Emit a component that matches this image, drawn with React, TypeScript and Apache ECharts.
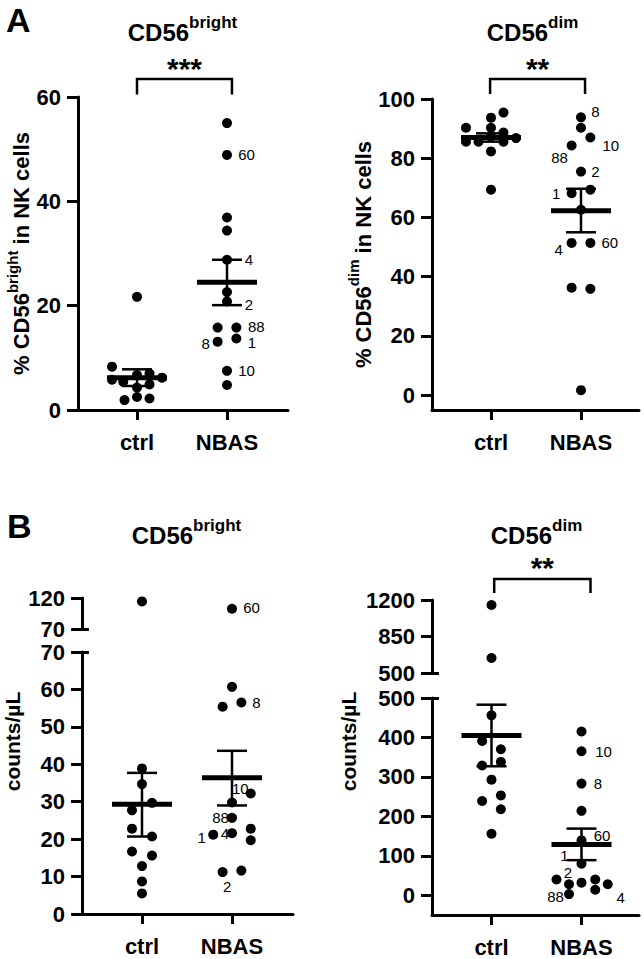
import React, { useEffect, useRef } from 'react';
import * as echarts from 'echarts';

// ---------- data ----------
const categories = ['ctrl', 'NBAS'];

// A: % CD56bright in NK cells
const aBrightTicks = [0, 20, 40, 60];
const aBrightCtrl = [21.7, 8.3, 5.8, 5.4, 6.7, 7.0, 6.2, 4.3, 4.9, 1.9, 2.5, 2.2];
const aBrightCtrlCol = [0, -2, -2, -1.1, 0, 1, 2, 0, 1, -1, 0, 1];
const aBrightNbas = [55.0, 48.9, 36.9, 34.4, 28.8, 22.6, 20.8, 15.8, 15.8, 13.1, 13.7, 7.5, 4.8];
const aBrightNbasCol = [0, 0, 0, 0, 0, 0, 0, -0.75, 0.75, -0.75, 0.75, 0, 0];
const aBrightNbasId = ['', '60', '', '', '4', '', '2', '', '88', '8', '1', '10', ''];
const aBrightMean = [6.2, 24.5];
const aBrightSemLo = [4.6, 20.1];
const aBrightSemHi = [7.8, 28.8];
const aBrightSig = '***';

// A: % CD56dim in NK cells
const aDimTicks = [0, 20, 40, 60, 80, 100];
const aDimCtrl = [95.4, 93.7, 90.3, 90.3, 88.7, 85.6, 85.6, 87.3, 85.6, 86.8, 82.3, 69.4];
const aDimCtrlCol = [1, 0, -2, 0, 1, -2, -1, 0, 1, 2, 0, 0];
const aDimNbas = [93.8, 90.3, 87.0, 84.3, 75.5, 68.2, 69.4, 62.6, 51.4, 51.4, 36.3, 35.9, 1.7];
const aDimNbasCol = [0, 0, 0.75, -0.75, 0, -0.75, 0.75, 0, -0.75, 0.75, -0.75, 0.75, 0];
const aDimNbasId = ['8', '', '10', '88', '2', '1', '', '', '4', '60', '', '', ''];
const aDimMean = [87.0, 62.3];
const aDimSemLo = [85.6, 55.0];
const aDimSemHi = [88.4, 69.7];
const aDimSig = '**';

// B: CD56bright counts/µL (broken axis 0-70 | 70-120)
const bBrightLowTicks = [0, 10, 20, 30, 40, 50, 60, 70];
const bBrightHighTicks = [70, 120];
const bBrightCtrl = [114.5, 38.9, 34.7, 29.7, 27.7, 22.8, 20.7, 16.7, 15.6, 12.8, 8.7, 5.5];
const bBrightCtrlCol = [0, 0, 0, 0.8, -0.8, -0.8, 0.8, -0.8, 0.8, 0, 0, 0];
const bBrightNbas = [102.6, 60.7, 55.4, 56.5, 29.8, 32.2, 25.7, 21.2, 21.6, 22.8, 19.7, 11.2, 11.6];
const bBrightNbasCol = [0, 0, -0.75, 0.75, 0, 1.5, 0, -1.5, 0, 1.5, 1.5, -0.75, 0.75];
const bBrightNbasId = ['60', '', '', '8', '', '10', '88', '1', '4', '', '', '2', ''];
const bBrightMean = [29.3, 36.4];
const bBrightSemLo = [20.7, 29.0];
const bBrightSemHi = [37.7, 43.6];

// B: CD56dim counts/µL (broken axis -50-500 | 500-1200)
const bDimLowTicks = [0, 100, 200, 300, 400, 500];
const bDimHighTicks = [500, 850, 1200];
const bDimCtrl = [1152, 644, 456, 391, 370, 329, 338, 293, 239, 253, 218, 156];
const bDimCtrlCol = [0, 0, 0, -0.75, 0.75, -0.75, 0.75, 0, -0.75, 0.75, 0.75, 0];
const bDimNbas = [415, 365, 283, 214, 139, 80, 40, 28, 32, 40, 28, 14, 3];
const bDimNbasCol = [0, 0, 0, 0, 0, 0, -2, -1, 0, 1.1, 2.1, 1.1, -1];
const bDimNbasId = ['', '10', '8', '', '60', '1', '', '2', '', '', '4', '', '88'];
const bDimMean = [405, 129];
const bDimSemLo = [327, 89];
const bDimSemHi = [483, 169];
const bDimSig = '**';

// ---------- styling ----------
const FONT = '"Liberation Sans", Arial, Helvetica, sans-serif';
const PX_PER_CAT = 90;
const COL = 12.5 / PX_PER_CAT;

const labelOffsets: Record<string, Record<string, number[]>> = {
  aBright: { '60': [19.5, 0], '4': [22, 0], '2': [22, 3], '88': [20, -1.5], '1': [15.5, 4], '8': [-12, 2], '10': [19.5, 0] },
  aDim: { '8': [14.5, -6], '10': [20.5, 8], '88': [-12, 12], '2': [14.5, 0], '1': [-15.5, 0], '4': [-13, 7], '60': [19.5, 0] },
  bBright: { '60': [19.5, -1], '8': [15, 0], '10': [-10.5, -5], '88': [-11.5, 0], '4': [-7, 0], '1': [-11.5, 3], '2': [4.5, 14] },
  bDim: { '10': [22, 0], '8': [16.5, 0], '60': [20.5, -5], '1': [-17, -8], '2': [-1, -12], '88': [-13.5, 2], '4': [13, 13.5] },
};

function pointItems(vals: number[], cols: number[], cat: number, ids: string[] | null,
  offs: Record<string, number[]>, keep: (v: number) => boolean) {
  const out: any[] = [];
  vals.forEach((v, i) => {
    if (!keep(v)) return;
    const x = cat + cols[i] * COL;
    const id = ids ? ids[i] : '';
    if (id) {
      const o = offs[id] || [15, 0];
      out.push({
        value: [x, v],
        label: {
          show: true, formatter: id, position: [5 + o[0], 5 + o[1]], align: 'center', verticalAlign: 'middle',
          fontSize: 15, color: '#000', opacity: 1, fontFamily: FONT,
        },
      });
    } else {
      out.push({ value: [x, v] });
    }
  });
  return out;
}

function xRange(gridLeft: number, ctrlPx: number, width: number) {
  const min = 1 - (ctrlPx - gridLeft) / PX_PER_CAT;
  return [min, min + width / PX_PER_CAT];
}

function xAxisFor(gridIndex: number, range: number[], show: boolean) {
  if (!show) return { type: 'value', gridIndex, min: range[0], max: range[1], show: false };
  return {
    type: 'value', gridIndex, min: range[0], max: range[1], splitLine: { show: false },
    axisLine: { show: true, onZero: false, lineStyle: { color: '#000', width: 3 } },
    axisTick: { show: true, length: 10, lineStyle: { color: '#000', width: 3 }, customValues: [1, 2] },
    axisLabel: {
      show: true, customValues: [1, 2], formatter: (v: number) => categories[Math.round(v) - 1] || '',
      margin: 21, fontSize: 22, fontWeight: 'bold', color: '#000', fontFamily: FONT,
    },
  };
}

function yAxisFor(gridIndex: number, min: number, max: number, ticks: number[], extra: any = {}) {
  return {
    type: 'value', gridIndex, min, max, position: 'left', splitLine: { show: false },
    axisLine: { show: true, onZero: false, lineStyle: { color: '#000', width: 3 } },
    axisTick: { show: true, length: 11, lineStyle: { color: '#000', width: 3 }, customValues: ticks },
    axisLabel: {
      show: true, customValues: ticks, formatter: (v: number) => String(v),
      margin: 17, fontSize: 22, fontWeight: 'bold', color: '#000', fontFamily: FONT,
    },
    ...extra,
  };
}

function breakAxis(gridIndex: number, min: number, max: number, v: number) {
  return {
    type: 'value', gridIndex, min, max, position: 'left', splitLine: { show: false },
    axisLine: { show: false },
    axisTick: { show: true, inside: true, length: 7, lineStyle: { color: '#000', width: 3 }, customValues: [v] },
    axisLabel: { show: false },
  };
}

const nameRich = {
  a: { fontSize: 22, fontWeight: 'bold', fontFamily: FONT, lineHeight: 28, verticalAlign: 'bottom', color: '#000' },
  b: { fontSize: 15, fontWeight: 'bold', fontFamily: FONT, lineHeight: 17, verticalAlign: 'top', color: '#000' },
};
const titleRich = {
  a: { fontSize: 24, fontWeight: 'bold', fontFamily: FONT, lineHeight: 30, verticalAlign: 'bottom', fill: '#000', color: '#000' },
  b: { fontSize: 17, fontWeight: 'bold', fontFamily: FONT, lineHeight: 17, verticalAlign: 'top', fill: '#000', color: '#000' },
};

function meanSeries(xi: number, yi: number, mean: number[], lo: number[], hi: number[]) {
  return {
    type: 'custom', xAxisIndex: xi, yAxisIndex: yi, silent: true, clip: false, z: 4,
    data: mean.map((m, i) => [i + 1, m, lo[i], hi[i]]),
    encode: { x: 0, y: 1 },
    renderItem: (_p: any, api: any) => {
      const x = api.value(0);
      const pm = api.coord([x, api.value(1)]);
      const pl = api.coord([x, api.value(2)]);
      const ph = api.coord([x, api.value(3)]);
      const half = 30, cap = 15;
      const thin = { stroke: '#000', lineWidth: 2.5 };
      return {
        type: 'group',
        children: [
          { type: 'line', shape: { x1: pl[0], y1: pl[1], x2: ph[0], y2: ph[1] }, style: thin },
          { type: 'line', shape: { x1: ph[0] - cap, y1: ph[1], x2: ph[0] + cap, y2: ph[1] }, style: thin },
          { type: 'line', shape: { x1: pl[0] - cap, y1: pl[1], x2: pl[0] + cap, y2: pl[1] }, style: thin },
          { type: 'line', shape: { x1: pm[0] - half, y1: pm[1], x2: pm[0] + half, y2: pm[1] }, style: { stroke: '#000', lineWidth: 5 } },
        ],
      };
    },
  };
}

function bracketSeries(xi: number, yi: number, x1: number, x2: number, yTop: number, yLeg: number, text: string) {
  return {
    type: 'custom', xAxisIndex: xi, yAxisIndex: yi, silent: true, clip: false, z: 4,
    data: [[x1, yTop]], encode: { x: 0, y: 1 },
    renderItem: (_p: any, api: any) => {
      const a = api.coord([x1, yLeg]);
      const b = api.coord([x1, yTop]);
      const c = api.coord([x2, yTop]);
      const d = api.coord([x2, yLeg]);
      return {
        type: 'group',
        children: [
          { type: 'polyline', shape: { points: [a, b, c, d] }, style: { stroke: '#000', lineWidth: 2.5, fill: 'none' } },
          {
            type: 'text', x: (b[0] + c[0]) / 2, y: b[1] - 11,
            style: { text, fontSize: 30, fontWeight: 'bold', fontFamily: FONT, fill: '#000', align: 'center', verticalAlign: 'middle' },
          },
        ],
      };
    },
  };
}

function scatter(xi: number, yi: number, data: any[]) {
  return {
    type: 'scatter', xAxisIndex: xi, yAxisIndex: yi, data, symbol: 'circle', symbolSize: 10,
    itemStyle: { color: '#000', opacity: 1 }, silent: true, clip: false, z: 3,
  };
}

function buildOption() {
  const xA1 = xRange(78, 137, 210);
  const xA2 = xRange(432, 491, 207);
  const xB1 = xRange(82, 142, 211);
  const xB2 = xRange(432, 491.5, 207);
  const all = () => true;

  const bBrightBreak = bBrightLowTicks[bBrightLowTicks.length - 1];
  const bDimBreak = bDimLowTicks[bDimLowTicks.length - 1];
  const hiB = (v: number) => v > bBrightBreak;
  const loB = (v: number) => v <= bBrightBreak;
  const hiD = (v: number) => v > bDimBreak;
  const loD = (v: number) => v <= bDimBreak;

  return {
    animation: false,
    backgroundColor: '#fff',
    grid: [
      { left: 78, top: 97, width: 210, height: 313, containLabel: false, outerBoundsMode: 'none' },
      { left: 432, top: 99, width: 207, height: 311, containLabel: false, outerBoundsMode: 'none' },
      { left: 82, top: 598, width: 211, height: 31, containLabel: false, outerBoundsMode: 'none' },
      { left: 82, top: 652, width: 211, height: 262, containLabel: false, outerBoundsMode: 'none' },
      { left: 432, top: 600, width: 207, height: 73, containLabel: false, outerBoundsMode: 'none' },
      { left: 432, top: 698, width: 207, height: 217, containLabel: false, outerBoundsMode: 'none' },
    ],
    xAxis: [
      xAxisFor(0, xA1, true),
      xAxisFor(1, xA2, true),
      xAxisFor(2, xB1, false),
      xAxisFor(3, xB1, true),
      xAxisFor(4, xB2, false),
      xAxisFor(5, xB2, true),
    ],
    yAxis: [
      yAxisFor(0, 0, 60, aBrightTicks, {
        name: '{a|% CD56}{b|bright}{a| in NK cells}', nameLocation: 'middle', nameRotate: 90, nameGap: 45,
        nameTextStyle: { color: '#000', fontFamily: FONT, fontWeight: 'bold', rich: nameRich },
      }),
      yAxisFor(1, -5, 100, aDimTicks, {
        name: '{a|% CD56}{b|dim}{a| in NK cells}', nameLocation: 'middle', nameRotate: 90, nameGap: 49,
        nameTextStyle: { color: '#000', fontFamily: FONT, fontWeight: 'bold', rich: nameRich },
      }),
      yAxisFor(2, 70, 120, bBrightHighTicks),
      breakAxis(2, 70, 120, 70),
      yAxisFor(3, 0, 70, bBrightLowTicks),
      breakAxis(3, 0, 70, 70),
      yAxisFor(4, 500, 1200, bDimHighTicks),
      breakAxis(4, 500, 1200, 500),
      yAxisFor(5, -50, 500, bDimLowTicks),
      breakAxis(5, -50, 500, 500),
    ],
    graphic: [
      { type: 'text', x: 6, y: 20, style: { text: 'A', fontSize: 34, fontWeight: 'bold', fontFamily: FONT, fill: '#000', align: 'left', verticalAlign: 'middle' } },
      { type: 'text', x: 7, y: 526, style: { text: 'B', fontSize: 34, fontWeight: 'bold', fontFamily: FONT, fill: '#000', align: 'left', verticalAlign: 'middle' } },
      { type: 'text', x: 182.5, y: 14, style: { text: '{a|CD56}{b|bright}', rich: titleRich, fill: '#000', align: 'center', verticalAlign: 'top' } },
      { type: 'text', x: 532.5, y: 14, style: { text: '{a|CD56}{b|dim}', rich: titleRich, fill: '#000', align: 'center', verticalAlign: 'top' } },
      { type: 'text', x: 186.5, y: 517, style: { text: '{a|CD56}{b|bright}', rich: titleRich, fill: '#000', align: 'center', verticalAlign: 'top' } },
      { type: 'text', x: 536.5, y: 517, style: { text: '{a|CD56}{b|dim}', rich: titleRich, fill: '#000', align: 'center', verticalAlign: 'top' } },
      { type: 'text', x: 12, y: 741.5, rotation: Math.PI / 2, style: { text: 'counts/µL', fontSize: 21, fontWeight: 'bold', fontFamily: FONT, fill: '#000', align: 'center', verticalAlign: 'middle' } },
      { type: 'text', x: 348, y: 741.5, rotation: Math.PI / 2, style: { text: 'counts/µL', fontSize: 21, fontWeight: 'bold', fontFamily: FONT, fill: '#000', align: 'center', verticalAlign: 'middle' } },
    ],
    series: [
      // A bright
      scatter(0, 0, [
        ...pointItems(aBrightCtrl, aBrightCtrlCol, 1, null, {}, all),
        ...pointItems(aBrightNbas, aBrightNbasCol, 2, aBrightNbasId, labelOffsets.aBright, all),
      ]),
      meanSeries(0, 0, aBrightMean, aBrightSemLo, aBrightSemHi),
      bracketSeries(0, 0, 1.0, 2.055, 63.45, 60.5, aBrightSig),
      // A dim
      scatter(1, 1, [
        ...pointItems(aDimCtrl, aDimCtrlCol, 1, null, {}, all),
        ...pointItems(aDimNbas, aDimNbasCol, 2, aDimNbasId, labelOffsets.aDim, all),
      ]),
      meanSeries(1, 1, aDimMean, aDimSemLo, aDimSemHi),
      bracketSeries(1, 1, 0.99, 2.045, 106.75, 101.7, aDimSig),
      // B bright
      scatter(2, 2, [
        ...pointItems(bBrightCtrl, bBrightCtrlCol, 1, null, {}, hiB),
        ...pointItems(bBrightNbas, bBrightNbasCol, 2, bBrightNbasId, labelOffsets.bBright, hiB),
      ]),
      scatter(3, 4, [
        ...pointItems(bBrightCtrl, bBrightCtrlCol, 1, null, {}, loB),
        ...pointItems(bBrightNbas, bBrightNbasCol, 2, bBrightNbasId, labelOffsets.bBright, loB),
      ]),
      meanSeries(3, 4, bBrightMean, bBrightSemLo, bBrightSemHi),
      // B dim
      scatter(4, 6, [
        ...pointItems(bDimCtrl, bDimCtrlCol, 1, null, {}, hiD),
        ...pointItems(bDimNbas, bDimNbasCol, 2, bDimNbasId, labelOffsets.bDim, hiD),
      ]),
      scatter(5, 8, [
        ...pointItems(bDimCtrl, bDimCtrlCol, 1, null, {}, loD),
        ...pointItems(bDimNbas, bDimNbasCol, 2, bDimNbasId, labelOffsets.bDim, loD),
      ]),
      meanSeries(5, 8, bDimMean, bDimSemLo, bDimSemHi),
      bracketSeries(4, 6, 1.03, 2.1, 1402, 1267, bDimSig),
    ],
  };
}

export default function App() {
  const ref = useRef<HTMLDivElement>(null);
  useEffect(() => {
    if (!ref.current) return;
    const chart = echarts.init(ref.current, null, { renderer: 'svg' });
    chart.setOption(buildOption() as any);
    return () => chart.dispose();
  }, []);
  return (
    <div
      ref={ref}
      style={{ position: 'absolute', left: 0, top: 0, width: 644, height: 959, background: '#fff' }}
    />
  );
}
